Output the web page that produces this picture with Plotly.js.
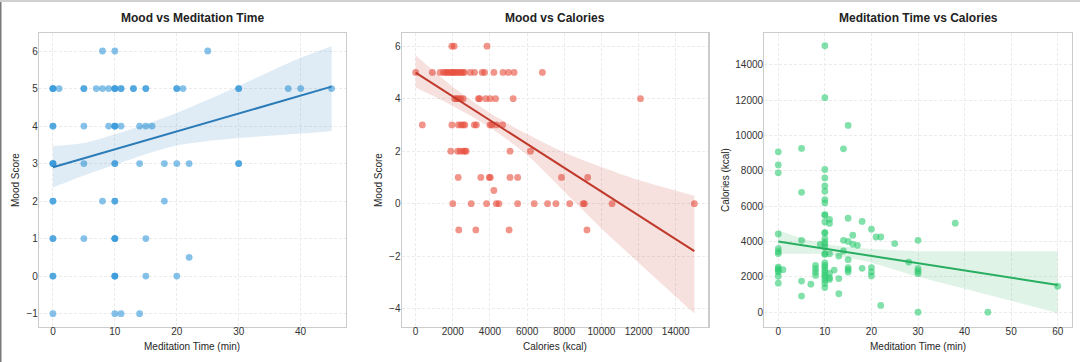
<!DOCTYPE html>
<html>
<head>
<meta charset="utf-8">
<script src="https://cdn.plot.ly/plotly-3.0.1.min.js"></script>
<style>html,body{margin:0;padding:0;background:#fff;}#chart{width:1080px;height:362px;}</style>
</head>
<body>
<div id="chart"></div>
<script>
// ---------- Panel 1: Mood vs Meditation Time ----------
const p1Minutes = [
  8, 10, 25,
  0, 0, 0, 1, 5, 5, 7, 8, 9, 10, 10, 10, 11, 11, 13, 13, 15, 15, 20, 20, 21, 30, 30, 38, 40, 45,
  0, 0, 5, 9, 10, 10, 10, 11, 14, 15, 16,
  0, 0, 0, 5, 10, 10, 14, 18, 20, 22, 30, 30,
  0, 0, 8, 10, 10, 18,
  0, 0, 5, 10, 10, 10, 15,
  22,
  0, 0, 10, 10, 10, 15, 20,
  0, 10, 11, 14
];
const p1Mood = [
  6, 6, 6,
  5, 5, 5, 5, 5, 5, 5, 5, 5, 5, 5, 5, 5, 5, 5, 5, 5, 5, 5, 5, 5, 5, 5, 5, 5, 5,
  4, 4, 4, 4, 4, 4, 4, 4, 4, 4, 4,
  3, 3, 3, 3, 3, 3, 3, 3, 3, 3, 3, 3,
  2, 2, 2, 2, 2, 2,
  1, 1, 1, 1, 1, 1, 1,
  0.5,
  0, 0, 0, 0, 0, 0, 0,
  -1, -1, -1, -1
];
const p1LineMinutes = [0, 45];
const p1LineMood = [2.9, 5.05];
const p1BandMinutes = [0, 5, 10, 15, 20, 25, 30, 35, 40, 45];
const p1BandUpper = [3.47, 3.55, 3.78, 4.05, 4.35, 4.70, 5.07, 5.45, 5.82, 6.13];
const p1BandLower = [2.36, 2.68, 2.97, 3.25, 3.48, 3.60, 3.68, 3.74, 3.80, 3.87];

// ---------- Panel 2: Mood vs Calories ----------
const p2Calories = [
  1950, 2070, 3840,
  0, 900, 1320, 1500, 1600, 1700, 1800, 1900, 2000, 2050, 2150, 2250, 2350, 2450, 2550, 2620, 2940, 3170, 3580, 3710, 4210, 4700, 4990, 5300, 6820,
  2100, 2200, 2300, 2420, 2560, 3380, 3450, 3780, 4010, 4300, 5250, 12100,
  360, 1950, 2300, 2440, 2560, 2650, 3160, 3270, 4000, 4100, 4350, 4680,
  1890, 2260, 2400, 2560, 2650, 2720, 5080, 6180,
  2290, 3510, 3960, 4020, 5080, 5490, 7850, 9260,
  4210,
  2000, 2990, 3820, 4340, 4480, 5490, 6380, 7100, 7550, 8290, 9020, 9080, 10570, 15000,
  2320, 3240, 5030, 9220
];
const p2Mood = [
  6, 6, 6,
  5, 5, 5, 5, 5, 5, 5, 5, 5, 5, 5, 5, 5, 5, 5, 5, 5, 5, 5, 5, 5, 5, 5, 5, 5,
  4, 4, 4, 4, 4, 4, 4, 4, 4, 4, 4, 4,
  3, 3, 3, 3, 3, 3, 3, 3, 3, 3, 3, 3,
  2, 2, 2, 2, 2, 2, 2, 2,
  1, 1, 1, 1, 1, 1, 1, 1,
  0.5,
  0, 0, 0, 0, 0, 0, 0, 0, 0, 0, 0, 0, 0, 0,
  -1, -1, -1, -1
];
const p2LineCalories = [0, 15000];
const p2LineMood = [4.99, -1.81];
const p2BandCalories = [0, 2000, 4000, 6000, 8000, 10000, 12000, 15000];
const p2BandUpper = [5.65, 4.45, 3.45, 2.65, 1.95, 1.40, 0.90, 0.30];
const p2BandLower = [4.42, 3.72, 2.90, 1.85, 0.45, -0.95, -2.25, -4.19];

// ---------- Panel 3: Meditation Time vs Calories ----------
const p3Minutes = [
  0, 0, 0, 0, 0, 0, 0, 0, 0, 0, 0, 0, 0,
  1,
  5, 5, 5, 5, 5,
  7,
  8, 8, 8, 8,
  9,
  10, 10, 10, 10, 10, 10, 10, 10, 10, 10, 10, 10, 10, 10, 10, 10, 10, 10, 10, 10, 10, 10, 10, 10, 10, 10, 10, 10, 10,
  11, 11, 11, 11, 11, 11,
  12,
  13, 13, 13,
  14, 14, 14,
  15, 15, 15, 15, 15, 15, 15,
  16, 16,
  17,
  18, 18,
  20, 20, 20, 20,
  21,
  22, 22,
  25,
  28,
  30, 30, 30, 30, 30,
  38,
  45,
  60
];
const p3Calories = [
  9070, 8330, 7880, 4420, 3590, 3420, 3310, 2550, 2460, 2370, 2270, 2030, 1640,
  2400,
  9260, 6780, 4060, 1760, 910,
  1580,
  2650, 2460, 2270, 2080,
  3850,
  15070, 12130, 8070, 7590, 7140, 6840, 6370, 6180, 5520, 5480, 5100, 4500, 4480, 4160, 3970, 3840, 3650, 3300, 3270, 2790, 2650, 2520, 2370, 2220, 2090, 1960, 1800, 1620, 1390,
  5250, 5020, 3300, 2200, 1950, 1850,
  2380,
  3170, 1900, 1040,
  9240, 4060, 3460,
  10560, 5310, 4000, 2970, 2520, 2400, 2270,
  4350, 3840,
  3780,
  5130, 2480,
  4690, 2520, 2270, 2050,
  4250,
  4250, 380,
  3880,
  2830,
  4060, 2460, 2320, 2180, 0,
  5030,
  0,
  1470
];
const p3LineMinutes = [0, 60];
const p3LineCalories = [4000, 1540];
const p3BandMinutes = [0, 5, 10, 15, 20, 30, 40, 50, 60];
const p3BandUpper = [4630, 4180, 3870, 3680, 3570, 3450, 3440, 3440, 3440];
const p3BandLower = [3310, 3300, 3270, 3080, 2800, 2000, 1330, 640, -60];

const titles = ['Mood vs Meditation Time', 'Mood vs Calories', 'Meditation Time vs Calories'];
const xTitles = ['Meditation Time (min)', 'Calories (kcal)', 'Meditation Time (min)'];
const yTitles = ['Mood Score', 'Mood Score', 'Calories (kcal)'];

// ---------- build ----------
if (p1Minutes.length !== p1Mood.length || p2Calories.length !== p2Mood.length || p3Minutes.length !== p3Calories.length) {
  throw new Error('length mismatch');
}

const FONT = 'Liberation Sans, Arial, Helvetica, sans-serif';
const W = 1080, H = 362;

function panelTraces(ax, xs, ys, lx, ly, bx, bu, bl, ptColor, lnColor, bandColor) {
  const xa = 'x' + (ax === 1 ? '' : ax), ya = 'y' + (ax === 1 ? '' : ax);
  return [
    {type: 'scatter', mode: 'markers', x: xs, y: ys, xaxis: xa, yaxis: ya,
     marker: {color: ptColor, size: 6.8, opacity: 0.6, line: {width: 0}}, hoverinfo: 'skip', showlegend: false},
    {type: 'scatter', mode: 'lines', x: bx, y: bl, xaxis: xa, yaxis: ya,
     line: {width: 0, shape: 'spline', smoothing: 0.8}, hoverinfo: 'skip', showlegend: false},
    {type: 'scatter', mode: 'lines', x: bx, y: bu, xaxis: xa, yaxis: ya, fill: 'tonexty', fillcolor: bandColor,
     line: {width: 0, shape: 'spline', smoothing: 0.8}, hoverinfo: 'skip', showlegend: false},
    {type: 'scatter', mode: 'lines', x: lx, y: ly, xaxis: xa, yaxis: ya,
     line: {color: lnColor, width: 2}, hoverinfo: 'skip', showlegend: false}
  ];
}

const data = [].concat(
  panelTraces(1, p1Minutes, p1Mood, p1LineMinutes, p1LineMood, p1BandMinutes, p1BandUpper, p1BandLower,
              '#3498db', '#2a7bb8', 'rgba(41,128,185,0.15)'),
  panelTraces(2, p2Calories, p2Mood, p2LineCalories, p2LineMood, p2BandCalories, p2BandUpper, p2BandLower,
              '#e74c3c', '#c0392b', 'rgba(192,57,43,0.15)'),
  panelTraces(3, p3Minutes, p3Calories, p3LineMinutes, p3LineCalories, p3BandMinutes, p3BandUpper, p3BandLower,
              '#2ecc71', '#27ae60', 'rgba(39,174,96,0.15)')
);

const boxes = [[39, 345.5], [401.7, 708.3], [764.3, 1071.7]];
const yTitleX = [15, 378, 725];
const yTop = 33, yBot = 327;
const ydom = [1 - yBot / H, 1 - yTop / H];

function axisBase(extra) {
  return Object.assign({
    showgrid: true, gridcolor: '#ebebeb', griddash: '3px,2px', gridwidth: 1,
    showline: true, linecolor: '#cccccc', linewidth: 1.2, mirror: true,
    zeroline: false, ticks: '', ticklen: 0, automargin: false,
    tickfont: {family: FONT, size: 10, color: '#333333'},
    fixedrange: true
  }, extra);
}

const xRanges = [[-2.25, 47.25], [-750, 15750], [-3, 63]];
const xDticks = [10, 2000, 10];
const xFormats = ['', 'd', ''];
const yRanges = [[-1.356, 6.48], [-4.70, 6.50], [-840, 15790]];
const yDticks = [1, 2, 2000];
const yFormats = ['', '', 'd'];

const layout = {
  width: W, height: H,
  margin: {l: 0, r: 0, t: 0, b: 0, pad: 0},
  paper_bgcolor: '#ffffff', plot_bgcolor: '#ffffff',
  font: {family: FONT, size: 10, color: '#262626'},
  showlegend: false,
  annotations: [],
  shapes: [
    {type: 'rect', xref: 'paper', yref: 'paper', x0: 0, x1: 1, y0: 1 - 2 / H, y1: 1,
     fillcolor: '#d0d0d0', line: {width: 0}},
    {type: 'rect', xref: 'paper', yref: 'paper', x0: 0, x1: 1.5 / W, y0: 0, y1: 1 - 2 / H,
     fillcolor: '#7a7a7a', line: {width: 0}}
  ]
};

const labelFont = {family: FONT, size: 10, color: '#262626'};
for (let i = 0; i < 3; i++) {
  const sfx = i === 0 ? '' : String(i + 1);
  const xd = [boxes[i][0] / W, boxes[i][1] / W];
  layout['xaxis' + sfx] = axisBase({
    domain: xd, range: xRanges[i], dtick: xDticks[i], tick0: 0, anchor: 'y' + sfx,
    tickformat: xFormats[i], ticklabelstandoff: -5
  });
  layout['yaxis' + sfx] = axisBase({
    domain: ydom, range: yRanges[i], dtick: yDticks[i], tick0: 0, anchor: 'x' + sfx,
    tickformat: yFormats[i], ticklabelstandoff: -2
  });
  layout.annotations.push({
    text: '<b>' + titles[i] + '</b>', xref: 'paper', yref: 'paper',
    x: (xd[0] + xd[1]) / 2, y: 1 - 18 / H, xanchor: 'center', yanchor: 'middle',
    showarrow: false, font: {family: FONT, size: 12, color: '#222222'}
  });
  layout.annotations.push({
    text: xTitles[i], xref: 'paper', yref: 'paper',
    x: (xd[0] + xd[1]) / 2, y: 1 - 346.5 / H, xanchor: 'center', yanchor: 'middle',
    showarrow: false, font: labelFont
  });
  layout.annotations.push({
    text: yTitles[i], xref: 'paper', yref: 'paper', textangle: -90,
    x: yTitleX[i] / W, y: (ydom[0] + ydom[1]) / 2, xanchor: 'center', yanchor: 'middle',
    showarrow: false, font: labelFont
  });
}

Plotly.newPlot('chart', data, layout, {staticPlot: true, displayModeBar: false});
</script>
</body>
</html>
